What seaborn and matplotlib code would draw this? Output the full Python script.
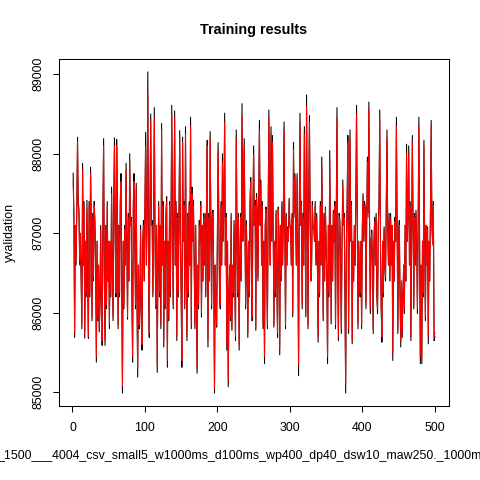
import numpy as np
import pandas as pd
import matplotlib
matplotlib.use("Agg")
import matplotlib.pyplot as plt
import seaborn as sns

# texts of the chart
title = "Training results"
y_label = "yvalidation"
x_label = "_1500___4004_csv_small5_w1000ms_d100ms_wp400_dp40_dsw10_maw250._1000ms"
x_ticks = [0, 100, 200, 300, 400, 500]
y_ticks = [85000, 86000, 87000, 88000, 89000]

y_actual = [
    87755, 87250, 85690, 87100, 86600, 87300, 88207, 87400, 87300, 86600,
    87000, 86400, 85800, 87880, 86600, 87400, 85680, 86900, 86200, 87415,
    86400, 85680, 87400, 86200, 87830, 87100, 85900, 87250, 86400, 87400,
    87160, 86600, 85380, 86900, 85900, 86600, 85760, 86200, 87100, 85900,
    85590, 87250, 88190, 86400, 85590, 87100, 86050, 87400, 86400, 86900,
    85800, 86900, 86200, 87580, 86600, 85900, 87400, 88200, 86900, 86200,
    88180, 87400, 85800, 87100, 86200, 87400, 87750, 86400, 84990, 86900,
    86050, 87100, 86600, 87880, 86900, 85920, 87250, 86400, 88000, 87100,
    87200, 86200, 85380, 87400, 87750, 86900, 86050, 87630, 86200, 85190,
    86600, 85800, 86050, 87100, 85900, 85530, 86900, 87160, 86400, 87400,
    88270, 86600, 87400, 89030, 86400, 85690, 87400, 88500, 87100, 87160,
    86200, 87250, 88580, 86900, 86050, 87100, 85250, 86600, 87400, 86200,
    87100, 85800, 88380, 86600, 87400, 85570, 86900, 86050, 87250, 87460,
    85315, 86900, 85900, 87400, 86200, 87100, 88610, 87250, 86050, 87200,
    88540, 86600, 87400, 85650, 87250, 86200, 87250, 88290, 86900, 86200,
    85315, 88210, 86900, 87400, 86050, 88340, 86600, 85650, 87250, 86200,
    87400, 86600, 88460, 85800, 87580, 86900, 87415, 86600, 85800, 87100,
    86200, 85240, 86600, 86050, 87160, 86900, 87400, 85947, 87100, 86400,
    87250, 86600, 87250, 86200, 87400, 88170, 85570, 87250, 86400, 88280,
    87100, 86050, 87250, 87290, 86400, 84990, 86600, 86050, 85820, 86900,
    88140, 87100, 86200, 86050, 87400, 86600, 88000, 86900, 87400, 88510,
    86600, 87250, 85530, 86900, 85070, 86200, 86600, 85900, 87250, 85780,
    86600, 86200, 87160, 86400, 85650, 88300, 87100, 86200, 87250, 85530,
    86600, 87250, 86400, 88630, 86900, 87400, 88190, 87100, 86050, 87160,
    86600, 85690, 86900, 86200, 87400, 87700, 86400, 85900, 87250, 88100,
    87100, 87415, 85780, 87500, 87250, 86400, 87400, 88420, 87100, 87670,
    86600, 87400, 85800, 86900, 85360, 87100, 87330, 86600, 85800, 87250,
    88550, 87250, 86600, 88340, 86900, 88230, 87100, 85820, 86900, 86200,
    87290, 86400, 85690, 87330, 86900, 85470, 87100, 86400, 87400, 86600,
    87250, 88400, 87100, 85800, 87250, 86600, 87080, 86900, 87440, 87100,
    87080, 86600, 87250, 85950, 88140, 87250, 87750, 87100, 86600, 87750,
    86900, 85210, 87250, 88510, 87100, 87400, 86050, 87250, 86600, 88340,
    87100, 85950, 88740, 87250, 85800, 87400, 88480, 87250, 86400, 86600,
    87400, 87080, 87100, 86900, 87400, 86600, 87250, 86600, 85630, 86900,
    86200, 87400, 86600, 87960, 87100, 85900, 87250, 86400, 87330, 86900,
    86400, 85360, 87100, 86200, 88040, 86900, 85860, 87100, 86400, 87290,
    86900, 87400, 85800, 87100, 88580, 86600, 85650, 87250, 87160, 86600,
    85740, 86900, 87670, 87100, 87250, 86200, 84990, 86900, 87400, 88230,
    85740, 87100, 88300, 86900, 87400, 85610, 86900, 86400, 87100, 86600,
    87400, 88610, 87100, 85800, 86900, 86400, 86200, 86900, 85800, 87100,
    87500, 86900, 87400, 87330, 86050, 87100, 87960, 87250, 88650, 87100,
    85990, 86900, 87040, 86600, 85740, 86900, 87200, 86600, 87250, 86200,
    85990, 87100, 87400, 88550, 86900, 86050, 85630, 86900, 86200, 87080,
    86600, 86400, 87400, 88300, 87100, 86600, 87250, 86400, 87250, 86600,
    87100, 85400, 86900, 86400, 87200, 86900, 88460, 87100, 85740, 86900,
    87160, 86200, 85570, 86400, 85690, 86200, 86600, 85990, 87100, 86400,
    88120, 86900, 87250, 88100, 86600, 87400, 85650, 86900, 88230, 87100,
    86050, 87250, 86600, 87290, 86900, 85990, 87100, 88460, 86900, 85360,
    86600, 85360, 86900, 86200, 88170, 86900, 85900, 87100, 86600, 87080,
    85610, 86900, 86400, 87330, 88420, 87100, 86900, 87400, 85650, 85700,
]

# predicted values (red)
y_pred = [
    87650, 87200, 85750, 87100, 86650, 87250, 88150, 87350, 87250, 86650,
    87000, 86450, 85850, 87800, 86600, 87350, 85750, 86900, 86250, 87300,
    86450, 85700, 87350, 86250, 87750, 87100, 85950, 87200, 86450, 87350,
    87100, 86600, 85450, 86900, 85950, 86600, 85800, 86250, 87050, 85950,
    85650, 87200, 88100, 86400, 85650, 87050, 86100, 87350, 86400, 86900,
    85850, 86900, 86250, 87500, 86600, 85950, 87350, 88100, 86900, 86250,
    88100, 87350, 85850, 87100, 86250, 87350, 87650, 86400, 85080, 86900,
    86100, 87050, 86600, 87800, 86900, 85950, 87200, 86400, 87900, 87100,
    87150, 86250, 85450, 87350, 87650, 86900, 86100, 87550, 86250, 85300,
    86600, 85850, 86100, 87050, 85950, 85600, 86900, 87100, 86400, 87350,
    88100, 86600, 87350, 88780, 86400, 85750, 87350, 88400, 87100, 87100,
    86250, 87200, 88450, 86900, 86100, 87100, 85350, 86600, 87350, 86250,
    87100, 85850, 88300, 86600, 87350, 85650, 86900, 86100, 87200, 87400,
    85400, 86900, 85950, 87350, 86250, 87100, 88500, 87200, 86100, 87150,
    88450, 86600, 87350, 85700, 87200, 86250, 87200, 88200, 86900, 86250,
    85400, 88150, 86900, 87350, 86100, 88250, 86600, 85700, 87200, 86250,
    87350, 86600, 88350, 85850, 87500, 86900, 87350, 86600, 85850, 87100,
    86250, 85300, 86600, 86100, 87100, 86900, 87350, 86000, 87100, 86400,
    87200, 86600, 87200, 86250, 87350, 88100, 85650, 87200, 86400, 88200,
    87100, 86100, 87200, 87250, 86400, 85050, 86600, 86100, 85850, 86900,
    88050, 87100, 86250, 86100, 87350, 86600, 87900, 86900, 87350, 88400,
    86600, 87200, 85600, 86900, 85150, 86250, 86600, 85950, 87200, 85800,
    86600, 86250, 87100, 86400, 85700, 88200, 87100, 86250, 87200, 85600,
    86600, 87200, 86400, 88480, 86900, 87350, 88100, 87100, 86100, 87100,
    86600, 85750, 86900, 86250, 87350, 87650, 86400, 85950, 87200, 88000,
    87100, 87350, 85800, 87450, 87200, 86450, 87350, 88300, 87100, 87600,
    86600, 87350, 85850, 86900, 85450, 87100, 87300, 86600, 85850, 87200,
    88450, 87200, 86600, 88250, 86900, 88150, 87100, 85850, 86900, 86250,
    87250, 86400, 85750, 87300, 86900, 85550, 87100, 86450, 87350, 86600,
    87200, 88300, 87100, 85850, 87200, 86600, 87050, 86900, 87400, 87100,
    87050, 86600, 87200, 86000, 88050, 87200, 87700, 87100, 86600, 87700,
    86900, 85350, 87200, 88400, 87100, 87350, 86100, 87200, 86600, 88250,
    87100, 86000, 88600, 87200, 85850, 87350, 88400, 87200, 86400, 86600,
    87350, 87050, 87100, 86900, 87350, 86600, 87200, 86600, 85700, 86900,
    86250, 87350, 86600, 87850, 87100, 85950, 87200, 86400, 87300, 86900,
    86400, 85450, 87100, 86250, 87950, 86900, 85900, 87100, 86400, 87250,
    86900, 87350, 85850, 87100, 88450, 86600, 85700, 87200, 87100, 86600,
    85800, 86900, 87600, 87100, 87200, 86250, 85100, 86900, 87350, 88150,
    85800, 87100, 88200, 86900, 87350, 85650, 86900, 86400, 87100, 86600,
    87350, 88500, 87100, 85850, 86900, 86400, 86250, 86900, 85850, 87100,
    87450, 86900, 87350, 87300, 86100, 87100, 87900, 87200, 88560, 87100,
    86050, 86900, 87000, 86600, 85800, 86900, 87150, 86600, 87200, 86250,
    86050, 87100, 87350, 88450, 86900, 86100, 85700, 86900, 86250, 87050,
    86600, 86450, 87350, 88200, 87100, 86600, 87200, 86400, 87200, 86600,
    87100, 85500, 86900, 86400, 87150, 86900, 88350, 87100, 85800, 86900,
    87100, 86250, 85650, 86400, 85750, 86250, 86600, 86050, 87100, 86400,
    88000, 86900, 87200, 88000, 86600, 87350, 85700, 86900, 88150, 87100,
    86100, 87200, 86600, 87250, 86900, 86050, 87100, 88350, 86900, 85450,
    86600, 85380, 86900, 86250, 88100, 86900, 85950, 87100, 86600, 87050,
    85700, 86900, 86400, 87300, 88350, 87100, 86850, 87350, 85700, 85750,
]

df = pd.DataFrame({
    "index": np.arange(1, len(y_actual) + 1),
    "actual": y_actual,
    "pred": y_pred,
})

plt.rcParams['font.family'] = ['Liberation Sans', 'DejaVu Sans']

fig = plt.figure(figsize=(4.8, 4.8), dpi=100)
ax = fig.add_axes([0.1223, 0.1542, 0.8137, 0.7229])

sns.lineplot(data=df, x="index", y="actual", color="black", lw=0.75, ax=ax)
sns.lineplot(data=df, x="index", y="pred", color="red", lw=0.75, ax=ax)

# R style axis ranges (4% padding)
n = len(df)
ax.set_xlim(1 - 0.04 * (n - 1), n + 0.04 * (n - 1))
lo = min(df["actual"].min(), df["pred"].min())
hi = max(df["actual"].max(), df["pred"].max())
ax.set_ylim(lo - 0.04 * (hi - lo), hi + 0.04 * (hi - lo))

ax.set_xticks(x_ticks)
ax.set_xticklabels([str(t) for t in x_ticks])
ax.set_yticks(y_ticks)
ax.set_yticklabels([str(t) for t in y_ticks], rotation=90, va="center")
ax.tick_params(direction="out", length=4.2, width=0.75, labelsize=8.9, colors="black")
ax.tick_params(axis="x", pad=7)
ax.tick_params(axis="y", pad=6)
for s in ax.spines.values():
    s.set_linewidth(0.75)
    s.set_color("black")
ax.set_xlabel("")
ax.set_ylabel("")

fig.text(0.529, 1 - 30 / 480, title, ha="center", va="center", fontsize=10.4, fontweight="bold")
fig.text(10 / 480, 0.5156, y_label, ha="center", va="center", rotation=90, fontsize=8.9)
fig.text(-3 / 480, 1 - 456 / 480, x_label, ha="left", va="center", fontsize=8.9)

fig.savefig("out.png", dpi=100, facecolor="white")
